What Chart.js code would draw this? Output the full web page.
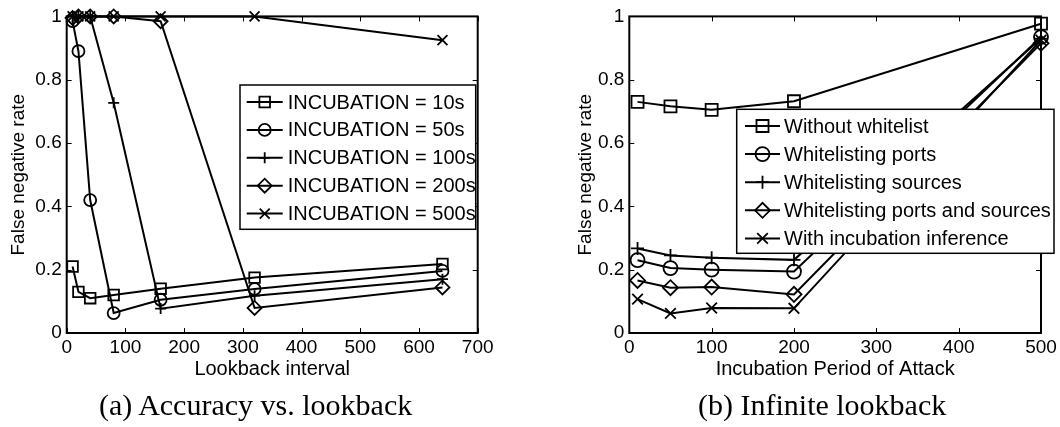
<!DOCTYPE html>
<html>
<head>
<meta charset="utf-8">
<script src="https://cdn.jsdelivr.net/npm/chart.js@4.4.1/dist/chart.umd.min.js"></script>
<style>
html, body { margin: 0; padding: 0; background: #fff; }
body { width: 1060px; height: 427px; position: relative; overflow: hidden; }
canvas { position: absolute; top: 0; }
.cap { position: absolute; font-family: "Liberation Serif", "Times New Roman", serif; font-size: 30px; line-height: 30px; color: #000; white-space: nowrap; }
</style>
</head>
<body>
<canvas id="chartA" width="540" height="427" style="left:0px"></canvas>
<canvas id="chartB" width="520" height="427" style="left:540px"></canvas>
<div class="cap" style="left:99px; top:390px">(a) Accuracy vs. lookback</div>
<div class="cap" style="left:698px; top:390px">(b) Infinite lookback</div>
<script>
// ---- data: (a) accuracy vs. lookback ----
var lookback = [10, 20, 40, 80, 160, 320, 640];
var inc10  = [0.21, 0.13, 0.11, 0.12, 0.14, 0.175, 0.218];
var inc50  = [0.985, 0.89, 0.42, 0.063, 0.105, 0.139, 0.196];
var inc100 = [1, 1, 1, 0.727, 0.077, 0.118, 0.17];
var inc200 = [0.995, 1, 1, 1, 0.985, 0.079, 0.144];
var inc500 = [1, 1, 1, 1, 1, 1, 0.925];
var labelsA = ["INCUBATION = 10s", "INCUBATION = 50s", "INCUBATION = 100s", "INCUBATION = 200s", "INCUBATION = 500s"];

// ---- data: (b) infinite lookback ----
var incubation = [10, 50, 100, 200, 500];
var noWhitelist  = [0.73, 0.716, 0.705, 0.732, 0.977];
var wlPorts      = [0.23, 0.205, 0.2, 0.194, 0.935];
var wlSources    = [0.267, 0.245, 0.238, 0.231, 0.93];
var wlBoth       = [0.166, 0.143, 0.145, 0.122, 0.915];
var incInference = [0.107, 0.062, 0.079, 0.078, 0.925];
var labelsB = ["Without whitelist", "Whitelisting ports", "Whitelisting sources", "Whitelisting ports and sources", "With incubation inference"];

var yTicks = [0, 0.2, 0.4, 0.6, 0.8, 1];

var FONT = "'Liberation Sans', Arial, Helvetica, sans-serif";

function pts(xs, ys) {
    return xs.map(function (x, i) { return { x: x, y: ys[i] }; });
}

function makeSet(label, xs, ys, style, r) {
    return {
        label: label,
        data: pts(xs, ys),
        borderColor: '#000',
        borderWidth: 2,
        pointStyle: style,
        pointRadius: r,
        pointBorderWidth: 1.8,
        pointBorderColor: '#000',
        pointBackgroundColor: 'rgba(0,0,0,0)',
        tension: 0,
        fill: false,
        clip: false
    };
}

// own marker drawing for the legend, same shapes as chart.js point styles
function drawMarker(ctx, style, r, x, y) {
    var s;
    ctx.beginPath();
    if (style === 'rect') {
        s = Math.SQRT1_2 * r;
        ctx.rect(x - s, y - s, 2 * s, 2 * s);
    } else if (style === 'circle') {
        ctx.arc(x, y, r, 0, Math.PI * 2);
    } else if (style === 'cross') {
        ctx.moveTo(x - r, y); ctx.lineTo(x + r, y);
        ctx.moveTo(x, y - r); ctx.lineTo(x, y + r);
    } else if (style === 'rectRot') {
        ctx.moveTo(x - r, y); ctx.lineTo(x, y - r);
        ctx.lineTo(x + r, y); ctx.lineTo(x, y + r);
        ctx.closePath();
    } else if (style === 'crossRot') {
        s = Math.SQRT1_2 * r;
        ctx.moveTo(x - s, y - s); ctx.lineTo(x + s, y + s);
        ctx.moveTo(x - s, y + s); ctx.lineTo(x + s, y - s);
    }
    ctx.stroke();
}

// matlab style box with inward ticks
var framePlugin = {
    id: 'frame',
    afterDatasetsDraw: function (chart) {
        var ctx = chart.ctx, a = chart.chartArea;
        var xs = chart.scales.x, ys = chart.scales.y;
        ctx.save();
        ctx.strokeStyle = '#000';
        ctx.lineWidth = 1;
        ctx.beginPath();
        xs.ticks.forEach(function (t) {
            var px = Math.round(xs.getPixelForValue(t.value)) + 0.5;
            ctx.moveTo(px, a.bottom); ctx.lineTo(px, a.bottom - 5);
            ctx.moveTo(px, a.top); ctx.lineTo(px, a.top + 5);
        });
        ys.ticks.forEach(function (t) {
            var py = Math.round(ys.getPixelForValue(t.value)) + 0.5;
            ctx.moveTo(a.left, py); ctx.lineTo(a.left + 5, py);
            ctx.moveTo(a.right, py); ctx.lineTo(a.right - 5, py);
        });
        ctx.stroke();
        ctx.lineWidth = 2;
        ctx.strokeRect(a.left, a.top, a.right - a.left, a.bottom - a.top);
        ctx.restore();
    },
    afterDraw: function (chart) {
        var lg = chart.options.plugins.boxLegend;
        if (!lg) return;
        var ctx = chart.ctx;
        ctx.save();
        ctx.fillStyle = '#fff';
        ctx.fillRect(lg.box[0], lg.box[1], lg.box[2] - lg.box[0], lg.box[3] - lg.box[1]);
        ctx.strokeStyle = '#000';
        ctx.lineWidth = 1.5;
        ctx.strokeRect(lg.box[0], lg.box[1], lg.box[2] - lg.box[0], lg.box[3] - lg.box[1]);
        ctx.font = '20px ' + FONT;
        ctx.textBaseline = 'middle';
        ctx.textAlign = 'left';
        chart.data.datasets.forEach(function (ds, i) {
            var y = lg.row0 + lg.step * i;
            ctx.strokeStyle = '#000';
            ctx.lineWidth = 2;
            ctx.beginPath();
            ctx.moveTo(lg.line[0], y); ctx.lineTo(lg.line[1], y);
            ctx.stroke();
            ctx.lineWidth = 1.8;
            drawMarker(ctx, ds.pointStyle, ds.pointRadius, (lg.line[0] + lg.line[1]) / 2, y);
            ctx.fillStyle = '#000';
            ctx.fillText(ds.label, lg.textX, y + 1);
        });
        ctx.restore();
    }
};

function scales(xMax, xTitle, yWidth) {
    return {
        x: {
            type: 'linear', min: 0, max: xMax,
            ticks: { stepSize: 100, font: { family: FONT, size: 19 }, color: '#000', padding: 3, maxRotation: 0, autoSkip: false },
            grid: { display: false, drawTicks: false },
            border: { display: false },
            title: { display: true, text: xTitle, color: '#000', font: { family: FONT, size: 20 }, padding: 0 },
            afterFit: function (s) { s.height = 48; }
        },
        y: {
            type: 'linear', min: 0, max: 1,
            afterBuildTicks: function (s) { s.ticks = yTicks.map(function (v) { return { value: v }; }); },
            ticks: {
                font: { family: FONT, size: 19 }, color: '#000', padding: 5,
                callback: function (v) { return String(v); }
            },
            grid: { display: false, drawTicks: false },
            border: { display: false },
            title: { display: true, text: 'False negative rate', color: '#000', font: { family: FONT, size: 19 }, padding: 0 },
            afterFit: function (s) { s.width = yWidth; }
        }
    };
}

var chartA = new Chart(document.getElementById('chartA').getContext('2d'), {
    type: 'line',
    data: {
        datasets: [
            makeSet(labelsA[0], lookback, inc10, 'rect', 7.5),
            makeSet(labelsA[1], lookback, inc50, 'circle', 6),
            makeSet(labelsA[2], lookback, inc100, 'cross', 5.5),
            makeSet(labelsA[3], lookback, inc200, 'rectRot', 7),
            makeSet(labelsA[4], lookback, inc500, 'crossRot', 7)
        ]
    },
    options: {
        responsive: false,
        animation: false,
        events: [],
        layout: { padding: { left: 7, top: 11, right: 62.3, bottom: 46 } },
        scales: scales(700, 'Lookback interval', 59.7),
        plugins: {
            legend: { display: false },
            tooltip: { enabled: false },
            boxLegend: { box: [240, 85, 475.7, 229.3], row0: 102, step: 27.9, line: [246.7, 282.7], textX: 287.7 }
        }
    },
    plugins: [framePlugin]
});

var chartB = new Chart(document.getElementById('chartB').getContext('2d'), {
    type: 'line',
    data: {
        datasets: [
            makeSet(labelsB[0], incubation, noWhitelist, 'rect', 8.5),
            makeSet(labelsB[1], incubation, wlPorts, 'circle', 7),
            makeSet(labelsB[2], incubation, wlSources, 'cross', 6.5),
            makeSet(labelsB[3], incubation, wlBoth, 'rectRot', 7.5),
            makeSet(labelsB[4], incubation, incInference, 'crossRot', 7.5)
        ]
    },
    options: {
        responsive: false,
        animation: false,
        events: [],
        layout: { padding: { left: 34, top: 11, right: 19, bottom: 46 } },
        scales: scales(500, 'Incubation Period of Attack', 55.3),
        plugins: {
            legend: { display: false },
            tooltip: { enabled: false },
            boxLegend: { box: [196.7, 109.3, 514, 253.3], row0: 126, step: 28.1, line: [205, 240], textX: 244 }
        }
    },
    plugins: [framePlugin]
});
</script>
</body>
</html>
